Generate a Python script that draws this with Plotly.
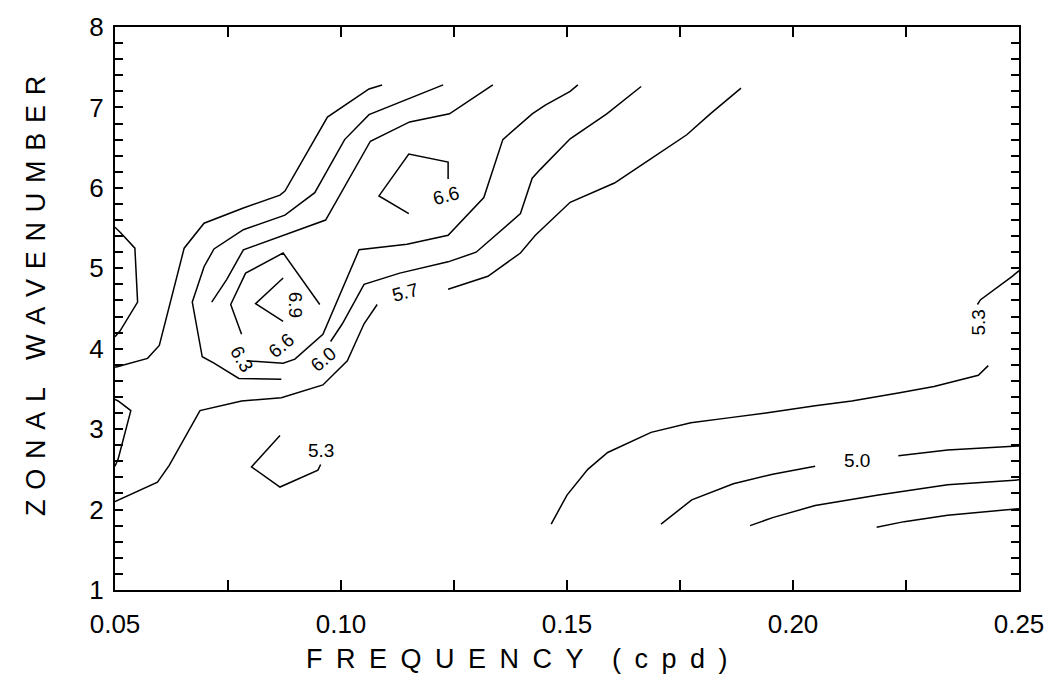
import plotly.graph_objects as go

# ---- contour polylines: x = frequency (cpd), y = zonal wavenumber ----
c57_left_x = [0.1091, 0.1062, 0.0970, 0.0876, 0.0865, 0.0784, 0.0697, 0.0653, 0.0598, 0.0572, 0.0507, 0.0500]
c57_left_y = [7.28, 7.23, 6.88, 5.96, 5.91, 5.75, 5.56, 5.25, 4.04, 3.88, 3.78, 3.77]

c57_low_x = [0.0500, 0.0594, 0.0620, 0.0688, 0.0780, 0.0868, 0.0960, 0.1014, 0.1051, 0.1080]
c57_low_y = [2.10, 2.34, 2.55, 3.23, 3.35, 3.39, 3.55, 3.85, 4.31, 4.55]

c57_up_x = [0.1237, 0.1325, 0.1397, 0.1430, 0.1507, 0.1605, 0.1677, 0.1765, 0.1817, 0.1885]
c57_up_y = [4.74, 4.90, 5.19, 5.41, 5.82, 6.06, 6.33, 6.66, 6.92, 7.24]

c60_left_x = [0.1226, 0.1062, 0.1008, 0.0942, 0.0876, 0.0784, 0.0719, 0.0697, 0.0671, 0.0693, 0.0719, 0.0774, 0.0868]
c60_left_y = [7.28, 6.91, 6.60, 5.94, 5.66, 5.48, 5.24, 5.02, 4.58, 3.90, 3.82, 3.63, 3.62]

c60_right_x = [0.0977, 0.1003, 0.1051, 0.1130, 0.1237, 0.1299, 0.1397, 0.1423, 0.1441, 0.1507, 0.1588, 0.1664]
c60_right_y = [4.09, 4.31, 4.80, 4.94, 5.08, 5.20, 5.68, 6.12, 6.23, 6.61, 6.92, 7.26]

c63_left_x = [0.1336, 0.1240, 0.1152, 0.1065, 0.0966, 0.0872, 0.0784, 0.0747, 0.0714]
c63_left_y = [7.28, 6.92, 6.82, 6.58, 5.60, 5.41, 5.23, 4.86, 4.58]

c63_right_x = [0.0791, 0.0872, 0.0898, 0.0960, 0.1040, 0.1146, 0.1237, 0.1316, 0.1358, 0.1423, 0.1452, 0.1507, 0.1524]
c63_right_y = [3.85, 3.82, 3.87, 4.18, 5.23, 5.30, 5.41, 5.88, 6.60, 6.92, 7.03, 7.20, 7.28]

c66_low_x = [0.0953, 0.0872, 0.0789, 0.0756, 0.0780]
c66_low_y = [4.55, 5.19, 4.94, 4.55, 4.18]

c66_up_x = [0.1150, 0.1084, 0.1150, 0.1237, 0.1237]
c66_up_y = [5.68, 5.90, 6.42, 6.32, 6.11]

c69_x = [0.0872, 0.0811, 0.0872]
c69_y = [4.88, 4.56, 4.34]

edge_top_x = [0.0500, 0.0513, 0.0544, 0.0550, 0.0511, 0.0500]
edge_top_y = [5.51, 5.44, 5.25, 4.58, 4.22, 4.15]

edge_low_x = [0.0500, 0.0507, 0.0535, 0.0507, 0.0500]
edge_low_y = [3.37, 3.35, 3.23, 2.63, 2.54]

c53_small_x = [0.0865, 0.0802, 0.0865, 0.0949, 0.0955]
c53_small_y = [2.92, 2.53, 2.28, 2.49, 2.56]

c53_right_x = [0.1465, 0.1500, 0.1546, 0.1590, 0.1686, 0.1774, 0.1857, 0.1940, 0.2049, 0.2130,
               0.2233, 0.2312, 0.2410, 0.2432]
c53_right_y = [1.82, 2.18, 2.50, 2.71, 2.96, 3.08, 3.14, 3.20, 3.29, 3.35, 3.45, 3.53, 3.67, 3.79]

c53_edge_x = [0.2408, 0.2415, 0.2485, 0.2500]
c53_edge_y = [4.55, 4.61, 4.90, 4.97]

c50_a_x = [0.1708, 0.1776, 0.1868, 0.1955, 0.2049]
c50_a_y = [1.82, 2.12, 2.32, 2.44, 2.54]

c50_b_x = [0.2233, 0.2342, 0.2500]
c50_b_y = [2.67, 2.74, 2.79]

c47_x = [0.1905, 0.1955, 0.2049, 0.2189, 0.2342, 0.2500]
c47_y = [1.80, 1.90, 2.05, 2.18, 2.31, 2.37]

c44_x = [0.2185, 0.2246, 0.2342, 0.2500]
c44_y = [1.78, 1.85, 1.93, 2.01]

# ---- contour labels ----
label_text = ["6.6", "6.9", "6.6", "6.3", "6.0", "5.7", "5.3", "5.3", "5.0"]
label_x = [0.1233, 0.0900, 0.0868, 0.0780, 0.0960, 0.1141, 0.0955, 0.2410, 0.2141]
label_y = [5.90, 4.55, 4.04, 3.88, 3.87, 4.70, 2.74, 4.33, 2.61]
label_angle = [-15, 90, -40, 60, -40, -15, 0, -90, 0]

# ---- axes ----
x_ticks = [0.05, 0.10, 0.15, 0.20, 0.25]
x_ticktext = ["0.05", "0.10", "0.15", "0.20", "0.25"]
y_ticks = [1, 2, 3, 4, 5, 6, 7, 8]
x_title = "FREQUENCY (cpd)"
y_title = "ZONAL WAVENUMBER"


def spaced(s, gap, word_gap):
    # letter-spaced title, as in the original
    return word_gap.join(gap.join(w) for w in s.split(" "))


segments = [
    (c57_left_x, c57_left_y), (c57_low_x, c57_low_y), (c57_up_x, c57_up_y),
    (c60_left_x, c60_left_y), (c60_right_x, c60_right_y),
    (c63_left_x, c63_left_y), (c63_right_x, c63_right_y),
    (c66_low_x, c66_low_y), (c66_up_x, c66_up_y), (c69_x, c69_y),
    (edge_top_x, edge_top_y), (edge_low_x, edge_low_y),
    (c53_small_x, c53_small_y), (c53_right_x, c53_right_y), (c53_edge_x, c53_edge_y),
    (c50_a_x, c50_a_y), (c50_b_x, c50_b_y), (c47_x, c47_y), (c44_x, c44_y),
]

FONT = "Liberation Sans, Arial, sans-serif"

fig = go.Figure()
for sx, sy in segments:
    fig.add_trace(go.Scatter(x=sx, y=sy, mode="lines",
                             line=dict(color="black", width=1.5),
                             showlegend=False, hoverinfo="skip"))

for t, lx, ly, ang in zip(label_text, label_x, label_y, label_angle):
    fig.add_annotation(x=lx, y=ly, text=t, showarrow=False, textangle=ang,
                       font=dict(family=FONT, size=19, color="black"))

# axis titles (letter-spaced), placed as in the original
fig.add_annotation(xref="paper", yref="paper", x=0.445, y=-0.123, xanchor="center", yanchor="middle",
                   text=spaced(x_title, "\u2002", "\u2002\u00a0\u00a0"), showarrow=False,
                   font=dict(family=FONT, size=27, color="black"))
fig.add_annotation(xref="paper", yref="paper", x=-0.0875, y=0.522, xanchor="center", yanchor="middle",
                   text=spaced(y_title, "\u00a0\u200a", "\u2002\u2002"), showarrow=False, textangle=-90,
                   font=dict(family=FONT, size=27, color="black"))

fig.update_layout(
    width=1056, height=685,
    margin=dict(l=115, r=27, t=19, b=95),
    paper_bgcolor="white", plot_bgcolor="white",
    font=dict(family=FONT, color="black"),
    showlegend=False,
)
fig.update_xaxes(
    range=[0.05, 0.25], tickvals=x_ticks, ticktext=x_ticktext,
    showgrid=False, zeroline=False,
    showline=True, linecolor="black", linewidth=2, mirror="allticks",
    ticks="inside", ticklen=10, tickwidth=1.5, tickcolor="black",
    minor=dict(dtick=0.025, tick0=0.05, ticks="inside", ticklen=10, tickwidth=1.5, tickcolor="black"),
    tickfont=dict(size=26, family=FONT),
    ticklabelstandoff=10,
)
fig.update_yaxes(
    range=[1, 8], tickvals=y_ticks,
    showgrid=False, zeroline=False,
    showline=True, linecolor="black", linewidth=2, mirror="allticks",
    ticks="inside", ticklen=8, tickwidth=1.5, tickcolor="black",
    minor=dict(dtick=0.2, tick0=1, ticks="inside", ticklen=8, tickwidth=1.5, tickcolor="black"),
    tickfont=dict(size=26, family=FONT),
    ticklabelstandoff=4,
)

fig.write_html("out.html")
